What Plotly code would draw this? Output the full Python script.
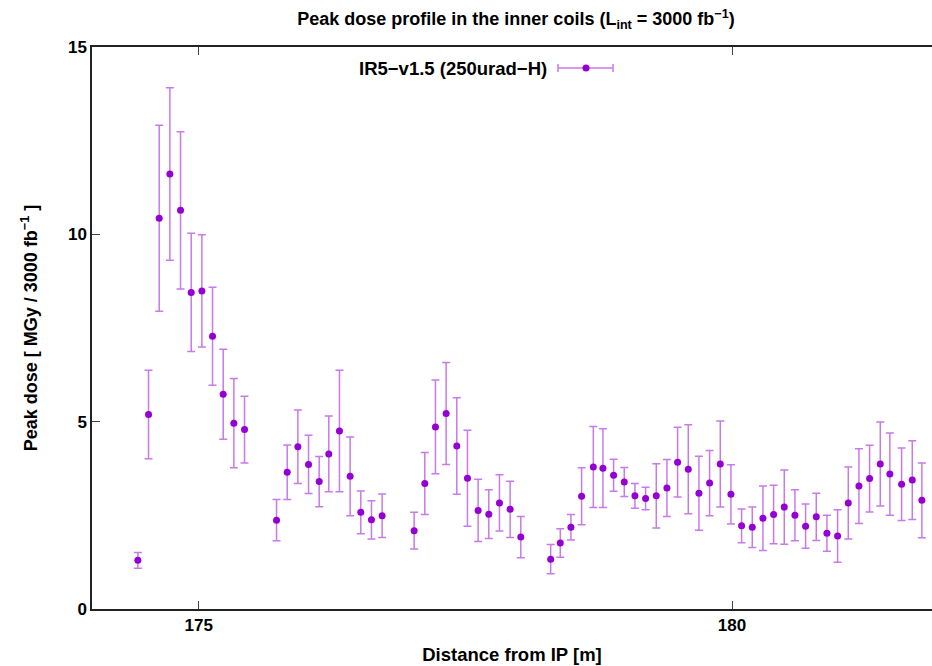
import plotly.graph_objects as go

distance = [174.43, 174.53, 174.63, 174.73, 174.83, 174.93, 175.03, 175.13, 175.23, 175.33, 175.43,
            175.73, 175.83, 175.93, 176.03, 176.13, 176.22, 176.32, 176.42, 176.52, 176.62, 176.72,
            177.02, 177.12, 177.22, 177.32, 177.42, 177.52, 177.62, 177.72, 177.82, 177.92, 178.02,
            178.30, 178.39, 178.49, 178.59, 178.70, 178.79, 178.89, 178.99, 179.09, 179.19, 179.29,
            179.39, 179.49, 179.59, 179.69, 179.79, 179.89, 179.99, 180.09, 180.19, 180.29, 180.39,
            180.49, 180.59, 180.69, 180.79, 180.89, 180.99, 181.09, 181.19, 181.29, 181.39, 181.48,
            181.59, 181.69, 181.78]

dose = [1.30, 5.19, 10.43, 11.61, 10.64, 8.45, 8.49, 7.28, 5.73, 4.96, 4.79,
        2.37, 3.65, 4.33, 3.86, 3.40, 4.14, 4.75, 3.54, 2.58, 2.38, 2.49,
        2.09, 3.35, 4.86, 5.22, 4.35, 3.49, 2.63, 2.53, 2.83, 2.66, 1.92,
        1.33, 1.76, 2.18, 3.01, 3.79, 3.76, 3.57, 3.39, 3.02, 2.95, 3.02,
        3.23, 3.92, 3.73, 3.09, 3.36, 3.87, 3.06, 2.22, 2.18, 2.42, 2.52,
        2.72, 2.50, 2.21, 2.46, 2.02, 1.95, 2.83, 3.28, 3.48, 3.87, 3.60,
        3.33, 3.44, 2.90]

dose_err = [0.21, 1.18, 2.48, 2.30, 2.10, 1.58, 1.50, 1.31, 1.20, 1.19, 0.89,
            0.55, 0.73, 0.98, 0.78, 0.67, 1.01, 1.62, 1.05, 0.57, 0.51, 0.58,
            0.49, 0.83, 1.25, 1.36, 1.29, 1.28, 0.83, 0.65, 0.75, 0.75, 0.55,
            0.39, 0.38, 0.34, 0.76, 1.08, 1.05, 0.43, 0.39, 0.33, 0.30, 0.86,
            0.76, 0.93, 1.19, 0.99, 0.87, 1.15, 0.79, 0.45, 0.54, 0.86, 0.78,
            0.99, 0.68, 0.59, 0.63, 0.48, 0.70, 0.96, 1.00, 0.89, 1.12, 1.10,
            0.97, 1.05, 1.00]

series_name = "IR5\u2212v1.5 (250urad\u2212H)"
x_ticks = [175, 180]
y_ticks = [0, 5, 10, 15]

MARK = "#9400d3"
ERR = "#c77ae9"
FONT = "Liberation Sans, Arial, sans-serif"

fig = go.Figure()
fig.add_trace(go.Scatter(
    x=distance, y=dose, mode="markers", name=series_name,
    marker=dict(color=MARK, size=7),
    error_y=dict(type="data", array=dose_err, visible=True, color=ERR, thickness=1.5, width=4),
    showlegend=False,
))

# plot area in pixels
L, R, T, B = 92, 932, 47, 609
def px(xp):
    return (xp - L) / (R - L)
def py(yp):
    return (B - yp) / (B - T)

# custom legend (gnuplot-style errorbar sample)
ly = py(68)
fig.add_shape(type="line", xref="paper", yref="paper", x0=px(558), x1=px(613), y0=ly, y1=ly,
              line=dict(color=ERR, width=1.5))
for xc in (558, 613):
    fig.add_shape(type="line", xref="paper", yref="paper", x0=px(xc), x1=px(xc), y0=py(64), y1=py(72),
                  line=dict(color=ERR, width=1.5))
fig.add_shape(type="circle", xref="paper", yref="paper", x0=px(582.5), x1=px(589.5), y0=py(64.5), y1=py(71.5),
              fillcolor=MARK, line=dict(color=MARK, width=0))
fig.add_annotation(xref="paper", yref="paper", x=px(549), y=ly, xanchor="right", yanchor="middle",
                   text="<b>" + series_name + "</b>", showarrow=False,
                   font=dict(family=FONT, size=18.5, color="black"))

axis_common = dict(
    showgrid=False, zeroline=False, showline=True, linecolor="#222", linewidth=1.5,
    ticks="inside", ticklen=8, tickwidth=1, tickcolor="#444",
    tickfont=dict(family=FONT, size=17, color="black"),
)

fig.update_layout(
    width=932, height=666,
    margin=dict(l=L, r=932 - R, t=T, b=666 - B, pad=0),
    plot_bgcolor="white", paper_bgcolor="white",
    title=dict(text="<b>Peak dose profile in the inner coils (L<sub>int</sub> = 3000 fb<sup>\u22121</sup>)</b>",
               x=516 / 932, xanchor="center", xref="container", y=1 - 19 / 666, yanchor="middle",
               font=dict(family=FONT, size=18, color="black")),
    xaxis=dict(range=[174, 181.875], tickvals=x_ticks, ticktext=[f"<b>{v}</b>" for v in x_ticks],
               mirror="ticks",
               title=dict(text="<b>Distance from IP [m]</b>", font=dict(family=FONT, size=18.5, color="black"),
                          standoff=14),
               **axis_common),
    yaxis=dict(range=[0, 15], tickvals=y_ticks, ticktext=[f"<b>{v}</b>" for v in y_ticks],
               title=dict(text="<b>Peak dose [ MGy / 3000 fb<sup>\u22121</sup> ]</b>",
                          font=dict(family=FONT, size=18, color="black"), standoff=26),
               **axis_common),
)

fig.write_html("out.html")
